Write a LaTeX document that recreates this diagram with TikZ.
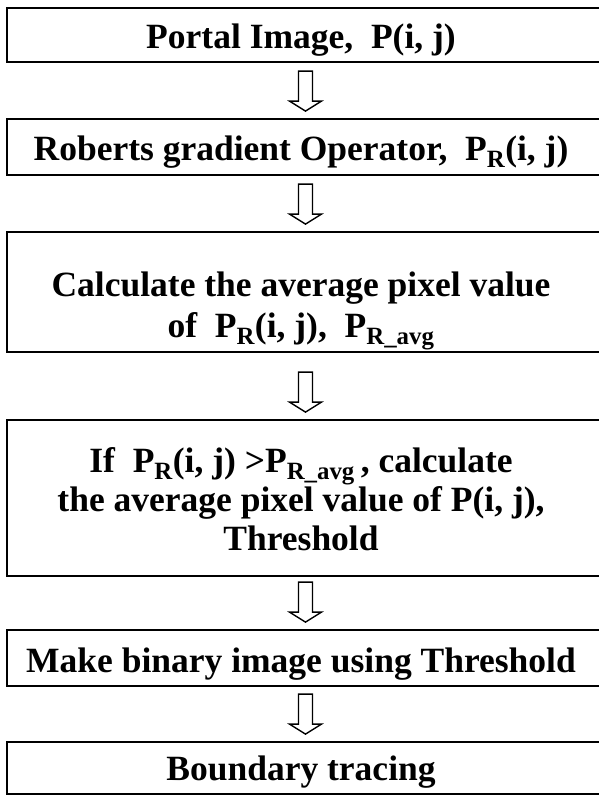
\documentclass[tikz,border=0pt]{standalone}
\usepackage{fontspec}
\setmainfont{Liberation Serif}
\usetikzlibrary{calc}
\newcommand{\PR}{P\textsubscript{R}}
\newcommand{\PRavg}{P\textsubscript{R\_avg}}
% hollow block arrow from box #1 down to box #2 (arrow axis 6.5pt left of box centre)
\newcommand{\hollowarrow}[2]{%
  \draw[hollowarr] ($(#2.north)+(-13.5,-47)$) -- ($(#2.north)+(-13.5,-17)$) -- ($(#2.north)+(-22.5,-17)$)
    -- ($(#2.north)+(-6.5,-7)$) -- ($(#2.north)+(9.5,-17)$) -- ($(#2.north)+(0.5,-17)$)
    -- ($(#2.north)+(0.5,-47)$) -- cycle;}
\begin{document}
\begin{tikzpicture}[x=1pt,y=-1pt,
  stepbox/.style={draw, line width=1.8pt, minimum width=610pt, inner sep=0pt},
  steptext/.style={anchor=base, inner sep=0pt, font=\fontsize{35.5}{42}\selectfont\bfseries},
  hollowarr/.style={draw, line width=1.4pt, line join=miter, fill=white}]
\useasboundingbox (0,0) rectangle (598,796);
\fill[white] (0,0) rectangle (598,796);
% boxes (left edge at x=7, right edge beyond the page)
\node[stepbox, minimum height=54pt]  (b1) at (312,35) {};
\node[stepbox, minimum height=56pt]  (b2) at (312,147) {};
\node[stepbox, minimum height=120pt] (b3) at (312,292) {};
\node[stepbox, minimum height=156pt] (b4) at (312,498) {};
\node[stepbox, minimum height=56pt]  (b5) at (312,658) {};
\node[stepbox, minimum height=52pt]  (b6) at (312,768) {};
% texts
\node[steptext] (t1) at (301,48) {Portal Image,\ \ P(i, j)};
\node[steptext] (t2) at (301,160) {Roberts gradient Operator,\ \ \PR(i, j)};
\node[steptext] (t3a) at (301,296) {Calculate the average pixel value};
\node[steptext] (t3b) at (301,337) {of\ \ \PR(i, j),\ \ \PRavg};
\node[steptext] (t4a) at (301,472) {If\ \ \PR(i, j) >\PRavg\,, calculate};
\node[steptext] (t4b) at (301,511) {the average pixel value of P(i, j),};
\node[steptext] (t4c) at (301,550) {Threshold};
\node[steptext] (t5) at (301,672) {Make binary image using Threshold};
\node[steptext] (t6) at (301,780) {Boundary tracing};
% arrows
\hollowarrow{b1}{b2}
\hollowarrow{b2}{b3}
\hollowarrow{b3}{b4}
\hollowarrow{b4}{b5}
\hollowarrow{b5}{b6}
\end{tikzpicture}
\end{document}
